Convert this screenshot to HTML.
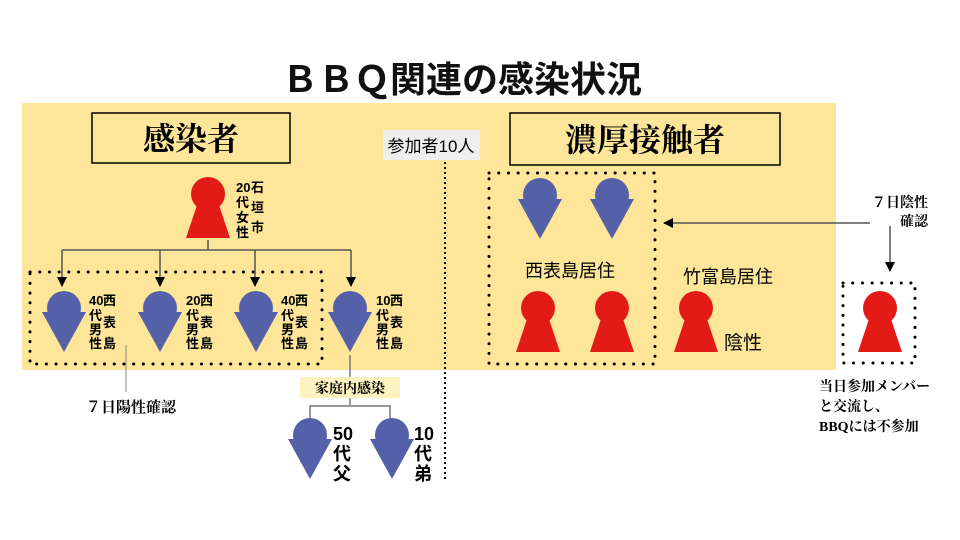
<!DOCTYPE html>
<html><head><meta charset="utf-8"><style>
html,body{margin:0;padding:0;background:#fff;}
svg{display:block;}
text{font-family:"Liberation Sans","Noto Sans CJK JP",sans-serif;}
.b{font-family:"Liberation Serif","Noto Serif CJK SC",serif;font-weight:bold;}
</style></head><body>
<svg width="960" height="540" viewBox="0 0 960 540" xmlns="http://www.w3.org/2000/svg">
<defs>
<g id="m"><circle cx="0" cy="-12" r="17" fill="#5460a8"/><polygon points="-22,-8 22,-8 0,32" fill="#5460a8"/></g>
<g id="f"><circle cx="0" cy="-14" r="17" fill="#e31b17"/><polygon points="-10,-6 10,-6 22,30 -22,30" fill="#e31b17"/></g>
<marker id="ar" viewBox="0 0 10 10" refX="9" refY="5" markerWidth="10" markerHeight="10" orient="auto" markerUnits="userSpaceOnUse"><path d="M0,0L10,5L0,10z" fill="#000"/></marker>
</defs>
<rect x="22" y="103" width="814" height="267" fill="#fde699"/>
<text x="462" y="92" font-size="36" font-weight="bold" text-anchor="middle" fill="#111">ＢＢＱ関連の感染状況</text>
<rect x="92" y="113" width="198" height="50" fill="#fde699" stroke="#000" stroke-width="1.5"/>
<text x="191" y="150" class="b" font-size="32" text-anchor="middle">感染者</text>
<rect x="510" y="113" width="270" height="52" fill="#fde699" stroke="#000" stroke-width="1.5"/>
<text x="645" y="151" class="b" font-size="32" text-anchor="middle">濃厚接触者</text>
<rect x="383" y="130" width="97" height="30" fill="#eeeeee"/>
<text x="431" y="152" font-size="17" text-anchor="middle">参加者10人</text>
<line x1="445" y1="162" x2="445" y2="480" stroke="#000" stroke-width="2" stroke-dasharray="2,3"/>
<use href="#f" x="208" y="208"/>
<text font-size="13" font-weight="bold"><tspan x="236" y="192">20</tspan><tspan x="236" y="207">代</tspan><tspan x="236" y="222">女</tspan><tspan x="236" y="237">性</tspan></text>
<text font-size="13" font-weight="bold"><tspan x="251" y="192">石</tspan><tspan x="251" y="212">垣</tspan><tspan x="251" y="232">市</tspan></text>
<g stroke="#555" stroke-width="1.5" fill="none">
<line x1="208" y1="240" x2="208" y2="250"/>
<line x1="62" y1="250" x2="351" y2="250"/>
<line x1="62" y1="250" x2="62" y2="286" marker-end="url(#ar)"/>
<line x1="160" y1="250" x2="160" y2="286" marker-end="url(#ar)"/>
<line x1="255" y1="250" x2="255" y2="286" marker-end="url(#ar)"/>
<line x1="351" y1="250" x2="351" y2="286" marker-end="url(#ar)"/>
</g>
<rect x="30" y="272" width="292" height="92" fill="none" stroke="#000" stroke-width="3" stroke-dasharray="0.1,9.6" stroke-linecap="round"/>
<use href="#m" x="64" y="320"/><use href="#m" x="160" y="320"/><use href="#m" x="256" y="320"/><use href="#m" x="350" y="320"/>
<g font-size="13" font-weight="bold">
<text><tspan x="89" y="305">40</tspan><tspan x="89" y="320">代</tspan><tspan x="89" y="334">男</tspan><tspan x="89" y="348">性</tspan></text>
<text><tspan x="103" y="305">西</tspan><tspan x="103" y="327">表</tspan><tspan x="103" y="348">島</tspan></text>
<text><tspan x="186" y="305">20</tspan><tspan x="186" y="320">代</tspan><tspan x="186" y="334">男</tspan><tspan x="186" y="348">性</tspan></text>
<text><tspan x="200" y="305">西</tspan><tspan x="200" y="327">表</tspan><tspan x="200" y="348">島</tspan></text>
<text><tspan x="281" y="305">40</tspan><tspan x="281" y="320">代</tspan><tspan x="281" y="334">男</tspan><tspan x="281" y="348">性</tspan></text>
<text><tspan x="295" y="305">西</tspan><tspan x="295" y="327">表</tspan><tspan x="295" y="348">島</tspan></text>
<text><tspan x="376" y="305">10</tspan><tspan x="376" y="320">代</tspan><tspan x="376" y="334">男</tspan><tspan x="376" y="348">性</tspan></text>
<text><tspan x="390" y="305">西</tspan><tspan x="390" y="327">表</tspan><tspan x="390" y="348">島</tspan></text>
</g>
<line x1="126" y1="345" x2="126" y2="392" stroke="#888" stroke-width="1"/>
<text x="131" y="412" class="b" font-size="15" text-anchor="middle">７日陽性確認</text>
<g stroke="#777" stroke-width="1.5" fill="none">
<line x1="350" y1="355" x2="350" y2="405"/>
<polyline points="310,420 310,406 390,406 390,420"/>
</g>
<rect x="300" y="377" width="100" height="21" fill="#fdf3c0"/>
<text x="350" y="393" class="b" font-size="14" text-anchor="middle">家庭内感染</text>
<use href="#m" x="310" y="447"/><use href="#m" x="392" y="447"/>
<g class="b" font-size="18">
<text><tspan x="333" y="440">50</tspan><tspan x="333" y="460">代</tspan><tspan x="333" y="480">父</tspan></text>
<text><tspan x="414" y="440">10</tspan><tspan x="414" y="460">代</tspan><tspan x="414" y="480">弟</tspan></text>
</g>
<rect x="489" y="173" width="166" height="191" fill="none" stroke="#000" stroke-width="3" stroke-dasharray="0.1,9.6" stroke-linecap="round"/>
<use href="#m" x="540" y="207"/><use href="#m" x="612" y="207"/>
<text x="570" y="277" font-size="18" text-anchor="middle">西表島居住</text>
<use href="#f" x="538" y="322"/><use href="#f" x="612" y="322"/>
<text x="728" y="283" font-size="18" text-anchor="middle">竹富島居住</text>
<use href="#f" x="696" y="322"/>
<text x="724" y="349" font-size="19">陰性</text>
<g stroke="#555" stroke-width="1.5" fill="none">
<line x1="890" y1="223" x2="664" y2="223" marker-end="url(#ar)"/>
<line x1="890" y1="223" x2="890" y2="271" marker-end="url(#ar)"/>
</g>
<rect x="870" y="190" width="64" height="36" fill="#fff"/>
<text class="b" font-size="14" text-anchor="end"><tspan x="928" y="207">７日陰性</tspan><tspan x="928" y="226">確認</tspan></text>
<rect x="843" y="283" width="72" height="80" fill="none" stroke="#000" stroke-width="3" stroke-dasharray="0.1,9.6" stroke-linecap="round"/>
<use href="#f" x="880" y="322"/>
<text class="b" font-size="14"><tspan x="819" y="391">当日参加メンバー</tspan><tspan x="819" y="411">と交流し、</tspan><tspan x="819" y="431">BBQには不参加</tspan></text>
</svg>
</body></html>
